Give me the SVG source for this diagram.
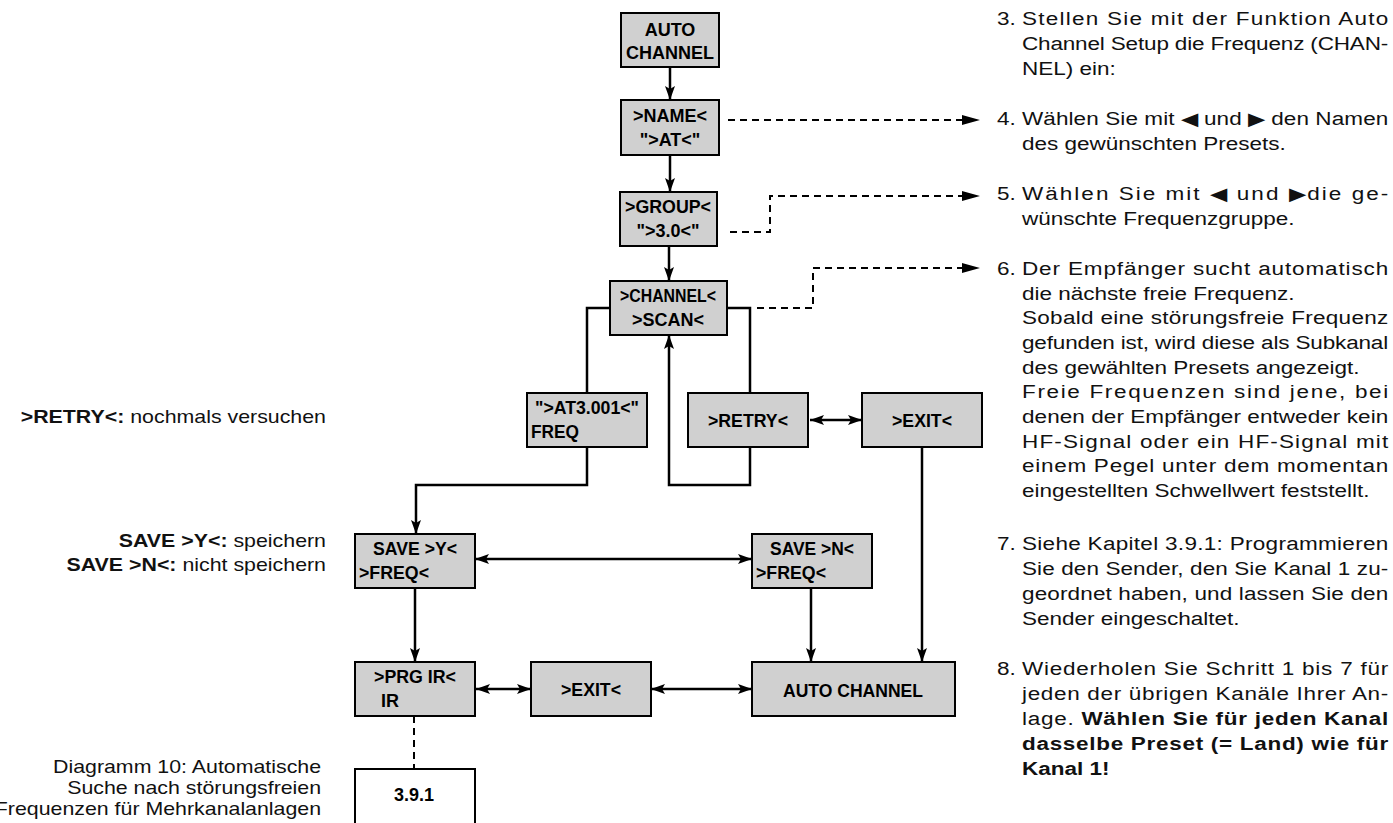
<svg xmlns="http://www.w3.org/2000/svg" width="1393" height="823" viewBox="0 0 1393 823">
<style>
.b{fill:#d0d0d0;stroke:#000;stroke-width:2}
.w{fill:#fff;stroke:#000;stroke-width:2}
.t{font-family:"Liberation Sans",Arial,sans-serif;font-weight:bold;font-size:18px;fill:#000}
.c{stroke:#000;stroke-width:2.5;fill:none}
.d{stroke:#000;stroke-width:2;fill:none;stroke-dasharray:7,5}
.p{font-family:"Liberation Sans",Arial,sans-serif;font-size:18px;fill:#111}
.l{font-family:"Liberation Sans",Arial,sans-serif;font-size:17.5px;fill:#111}
.pb{font-weight:bold}
</style>
<defs>
<marker id="a" viewBox="0 0 14 10" refX="14" refY="5" markerWidth="14" markerHeight="10" markerUnits="userSpaceOnUse" orient="auto-start-reverse"><path d="M0,0L14,5L0,10L3,5z" fill="#000"/></marker>
</defs>
<g id="connectors">
<path class="c" d="M670,67V100" marker-end="url(#a)"/>
<path class="c" d="M670,155V192" marker-end="url(#a)"/>
<path class="c" d="M669,246V281" marker-end="url(#a)"/>
<path class="c" d="M610,308H587V393"/>
<path class="c" d="M727,308H750V393"/>
<path class="c" d="M750,447V485H669V335" marker-end="url(#a)"/>
<path class="c" d="M587,447V485H416V534" marker-end="url(#a)"/>
<path class="c" d="M810,420H862" marker-start="url(#a)" marker-end="url(#a)"/>
<path class="c" d="M922,447V662" marker-end="url(#a)"/>
<path class="c" d="M475,559H752" marker-start="url(#a)" marker-end="url(#a)"/>
<path class="c" d="M811,588V662" marker-end="url(#a)"/>
<path class="c" d="M415,588V662" marker-end="url(#a)"/>
<path class="c" d="M476,689H531" marker-start="url(#a)" marker-end="url(#a)"/>
<path class="c" d="M651,689H752" marker-start="url(#a)" marker-end="url(#a)"/>
<path class="d" d="M414,716V769"/>
<path class="d" d="M728,120H966"/>
<path class="d" d="M730,232H770V196H966"/>
<path class="d" d="M757,308H813V268H966"/>
<path d="M962,115L980,120L962,125z M962,191L980,196L962,201z M962,263L980,268L962,273z" fill="#000"/>
</g>
<g id="n-auto"><rect class="b" x="621" y="13" width="98" height="54"/><text class="t" x="670" y="36" text-anchor="middle" font-size="19">AUTO</text><text class="t" x="670" y="59" text-anchor="middle" textLength="88" lengthAdjust="spacingAndGlyphs">CHANNEL</text></g>
<g id="n-name"><rect class="b" x="621" y="100" width="98" height="55"/><text class="t" x="670" y="122" text-anchor="middle" font-size="19">&gt;NAME&lt;</text><text class="t" x="670" y="146" text-anchor="middle" font-size="19">"&gt;AT&lt;"</text></g>
<g id="n-group"><rect class="b" x="620" y="192" width="97" height="54"/><text class="t" x="668" y="213" text-anchor="middle" textLength="86" lengthAdjust="spacingAndGlyphs">&gt;GROUP&lt;</text><text class="t" x="668" y="237" text-anchor="middle" font-size="19">"&gt;3.0&lt;"</text></g>
<g id="n-scan"><rect class="b" x="610" y="281" width="117" height="54"/><text class="t" x="668" y="302" text-anchor="middle" textLength="96" lengthAdjust="spacingAndGlyphs">&gt;CHANNEL&lt;</text><text class="t" x="668" y="326" text-anchor="middle" font-size="19">&gt;SCAN&lt;</text></g>
<g id="n-at"><rect class="b" x="527" y="393" width="120" height="54"/><text class="t" x="587" y="414" text-anchor="middle" textLength="104" lengthAdjust="spacingAndGlyphs">"&gt;AT3.001&lt;"</text><text class="t" x="531" y="438" textLength="48" lengthAdjust="spacingAndGlyphs">FREQ</text></g>
<g id="n-retry"><rect class="b" x="688" y="393" width="120" height="54"/><text class="t" x="748" y="427" text-anchor="middle" textLength="80" lengthAdjust="spacingAndGlyphs">&gt;RETRY&lt;</text></g>
<g id="n-exit1"><rect class="b" x="862" y="393" width="120" height="54"/><text class="t" x="922" y="427" text-anchor="middle" textLength="60" lengthAdjust="spacingAndGlyphs">&gt;EXIT&lt;</text></g>
<g id="n-savey"><rect class="b" x="355" y="534" width="120" height="54"/><text class="t" x="415" y="555" text-anchor="middle" textLength="84" lengthAdjust="spacingAndGlyphs">SAVE &gt;Y&lt;</text><text class="t" x="359" y="579" textLength="70" lengthAdjust="spacingAndGlyphs">&gt;FREQ&lt;</text></g>
<g id="n-saven"><rect class="b" x="752" y="534" width="120" height="54"/><text class="t" x="812" y="555" text-anchor="middle" textLength="84" lengthAdjust="spacingAndGlyphs">SAVE &gt;N&lt;</text><text class="t" x="756" y="579" textLength="70" lengthAdjust="spacingAndGlyphs">&gt;FREQ&lt;</text></g>
<g id="n-prg"><rect class="b" x="355" y="662" width="120" height="54"/><text class="t" x="415" y="683" text-anchor="middle" textLength="82" lengthAdjust="spacingAndGlyphs">&gt;PRG IR&lt;</text><text class="t" x="381" y="707">IR</text></g>
<g id="n-exit2"><rect class="b" x="531" y="662" width="120" height="54"/><text class="t" x="591" y="696" text-anchor="middle" textLength="60" lengthAdjust="spacingAndGlyphs">&gt;EXIT&lt;</text></g>
<g id="n-autoch"><rect class="b" x="752" y="662" width="203" height="54"/><text class="t" x="853" y="697" text-anchor="middle" font-size="21" textLength="140" lengthAdjust="spacingAndGlyphs">AUTO CHANNEL</text></g>
<g id="n-391"><rect class="w" x="355" y="769" width="120" height="60"/><text class="t" x="414" y="801" text-anchor="middle" font-size="16">3.9.1</text></g>
<g id="left-text" class="l" text-anchor="end" transform="matrix(1.22,0,0,1,-71.72,0)">
<text x="326" y="423"><tspan class="pb">&gt;RETRY&lt;:</tspan> nochmals versuchen</text>
<text x="326" y="547"><tspan class="pb">SAVE &gt;Y&lt;:</tspan> speichern</text>
<text x="326" y="571"><tspan class="pb">SAVE &gt;N&lt;:</tspan> nicht speichern</text>
<text x="322" y="773">Diagramm 10: Automatische</text>
<text x="322" y="794">Suche nach störungsfreien</text>
<text x="322" y="815">Frequenzen für Mehrkanalanlagen</text>
</g>
<g id="right-text" class="p" transform="matrix(1.25,0,0,1,-249.25,0)">
<text x="997" y="25">3.</text><text x="1017" y="25" textLength="293" lengthAdjust="spacing">Stellen Sie mit der Funktion Auto</text>
<text x="1017" y="50" textLength="293" lengthAdjust="spacing">Channel Setup die Frequenz (CHAN-</text>
<text x="1017" y="75">NEL) ein:</text>
<text x="997" y="125">4.</text><text x="1017" y="125" textLength="293" lengthAdjust="spacing">Wählen Sie mit ◀ und ▶ den Namen</text>
<text x="1017" y="150">des gewünschten Presets.</text>
<text x="997" y="200">5.</text><text x="1017" y="200" textLength="293" lengthAdjust="spacing">Wählen Sie mit ◀  und  ▶die ge-</text>
<text x="1017" y="225">wünschte Frequenzgruppe.</text>
<text x="997" y="275">6.</text><text x="1017" y="275" textLength="293" lengthAdjust="spacing">Der Empfänger sucht automatisch</text>
<text x="1017" y="300">die nächste freie Frequenz.</text>
<text x="1017" y="324" textLength="293" lengthAdjust="spacing">Sobald eine störungsfreie Frequenz</text>
<text x="1017" y="349" textLength="293" lengthAdjust="spacing">gefunden ist, wird diese als Subkanal</text>
<text x="1017" y="374">des gewählten Presets angezeigt.</text>
<text x="1017" y="398" textLength="293" lengthAdjust="spacing">Freie Frequenzen sind jene, bei</text>
<text x="1017" y="423" textLength="293" lengthAdjust="spacing">denen der Empfänger entweder kein</text>
<text x="1017" y="448" textLength="293" lengthAdjust="spacing">HF-Signal oder ein HF-Signal mit</text>
<text x="1017" y="472" textLength="293" lengthAdjust="spacing">einem Pegel unter dem momentan</text>
<text x="1017" y="497">eingestellten Schwellwert feststellt.</text>
<text x="997" y="550">7.</text><text x="1017" y="550" textLength="293" lengthAdjust="spacing">Siehe Kapitel 3.9.1: Programmieren</text>
<text x="1017" y="575" textLength="293" lengthAdjust="spacing">Sie den Sender, den Sie Kanal 1 zu-</text>
<text x="1017" y="600" textLength="293" lengthAdjust="spacing">geordnet haben, und lassen Sie den</text>
<text x="1017" y="625">Sender eingeschaltet.</text>
<text x="997" y="675">8.</text><text x="1017" y="675" textLength="293" lengthAdjust="spacing">Wiederholen Sie Schritt 1 bis 7 für</text>
<text x="1017" y="700" textLength="293" lengthAdjust="spacing">jeden der übrigen Kanäle Ihrer An-</text>
<text x="1017" y="725" textLength="293" lengthAdjust="spacing">lage. <tspan class="pb">Wählen Sie für jeden Kanal</tspan></text>
<text x="1017" y="750" textLength="293" lengthAdjust="spacing" class="pb">dasselbe Preset (= Land) wie für</text>
<text x="1017" y="775" class="pb">Kanal 1!</text>
</g>
</svg>
